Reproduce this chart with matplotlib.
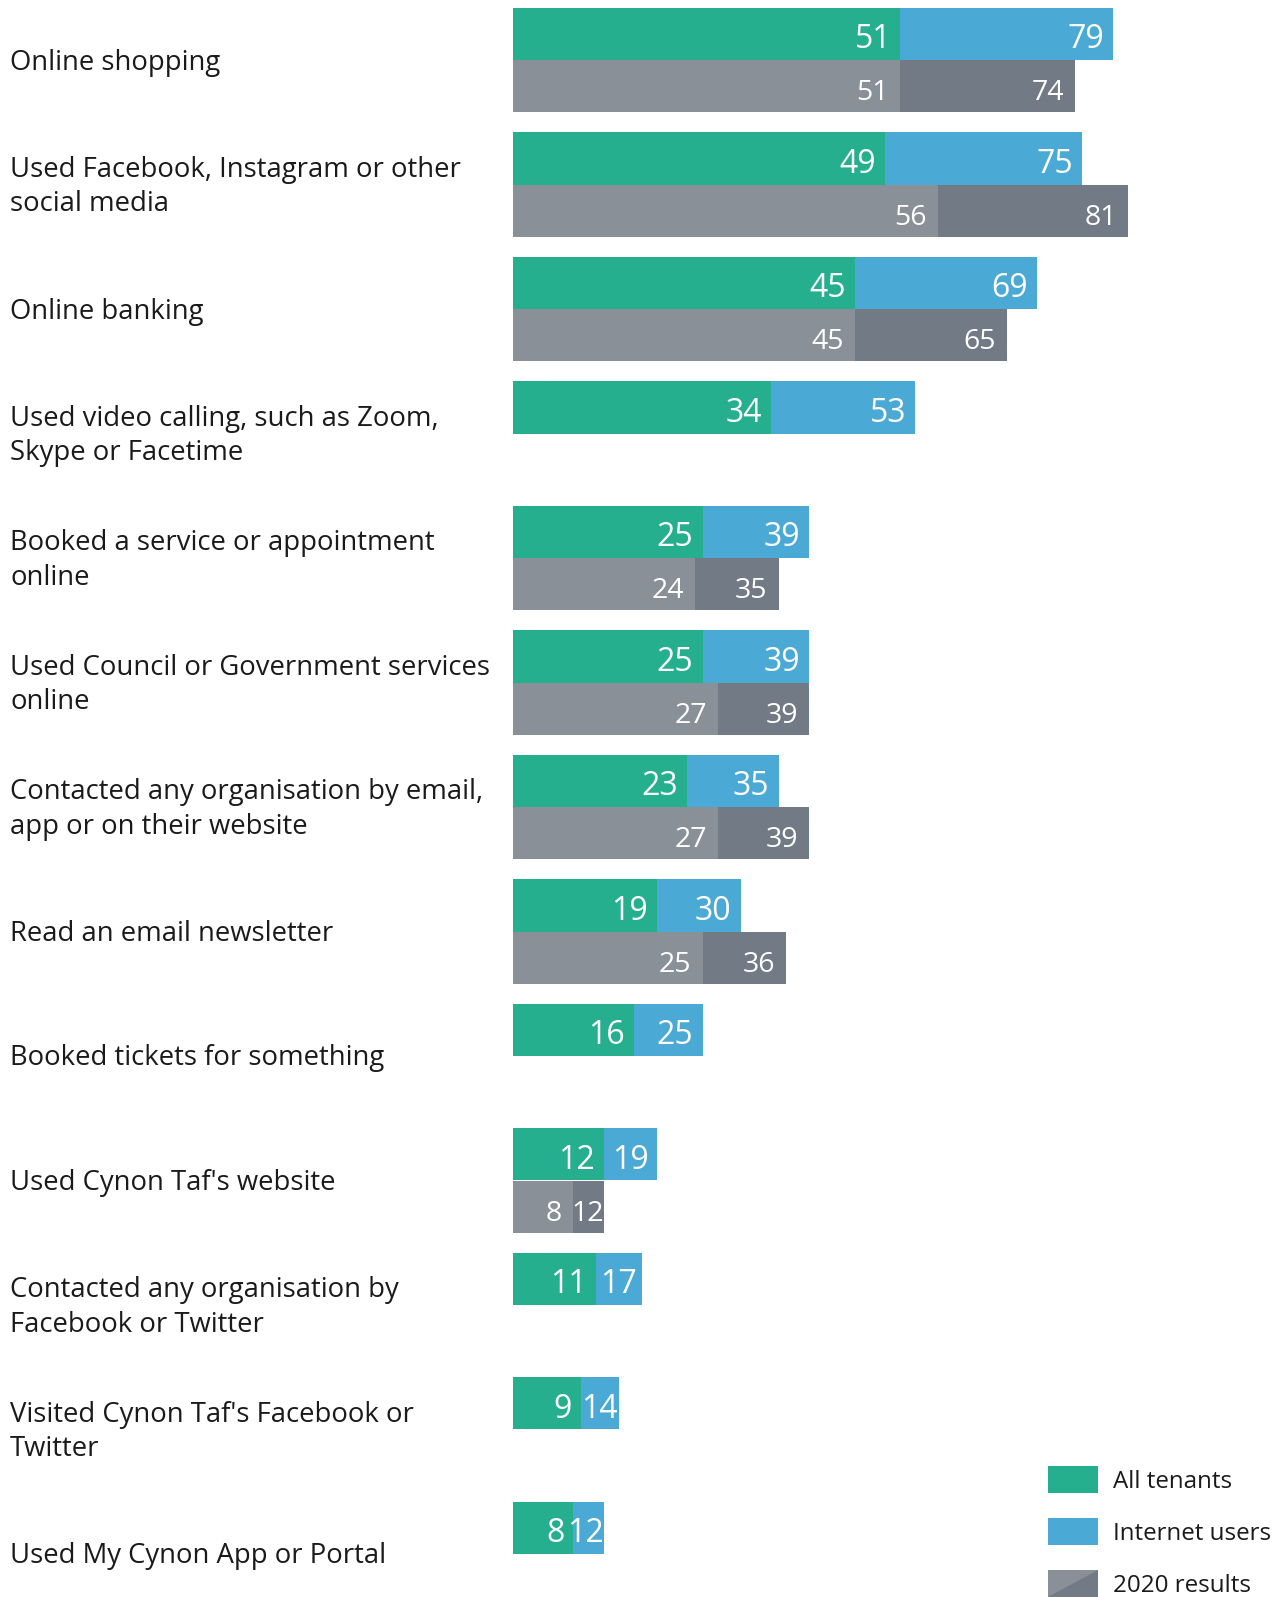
import matplotlib
matplotlib.use("Agg")
import numpy as np
import matplotlib.pyplot as plt
from matplotlib import font_manager as fm
from matplotlib.patches import Rectangle, Polygon
from matplotlib.transforms import blended_transform_factory, offset_copy

# ---- data -------------------------------------------------------------
categories = [
    "Online shopping",
    "Used Facebook, Instagram or other\nsocial media",
    "Online banking",
    "Used video calling, such as Zoom,\nSkype or Facetime",
    "Booked a service or appointment\nonline",
    "Used Council or Government services\nonline",
    "Contacted any organisation by email,\napp or on their website",
    "Read an email newsletter",
    "Booked tickets for something",
    "Used Cynon Taf's website",
    "Contacted any organisation by\nFacebook or Twitter",
    "Visited Cynon Taf's Facebook or\nTwitter",
    "Used My Cynon App or Portal",
]
all_tenants = [51, 49, 45, 34, 25, 25, 23, 19, 16, 12, 11, 9, 8]
internet_users = [79, 75, 69, 53, 39, 39, 35, 30, 25, 19, 17, 14, 12]
all_tenants_2020 = [51, 56, 45, np.nan, 24, 27, 27, 25, np.nan, 8, np.nan, np.nan, np.nan]
internet_users_2020 = [74, 81, 65, np.nan, 35, 39, 39, 36, np.nan, 12, np.nan, np.nan, np.nan]
legend_labels = ["All tenants", "Internet users", "2020 results"]

# ---- style ------------------------------------------------------------
GREEN = "#26AF8F"
BLUE = "#4BAAD5"
LGRAY = "#899098"
DGRAY = "#717A85"
TEXT = "#1A1A1A"

available = {f.name for f in fm.fontManager.ttflist}


def pick(*names):
    for n in names:
        if n in available:
            return n
    return "DejaVu Sans"


LABEL_FONT = pick("Open Sans", "Noto Sans", "Lato", "DejaVu Sans")
NUM_FONT = pick("Open Sans", "Noto Sans", "DejaVu Sans")

W, H = 1287, 1597
fig = plt.figure(figsize=(W / 100, H / 100), dpi=100)
fig.patch.set_facecolor("white")

X0 = 512.5          # left edge of the bars (px)
PX_PER_UNIT = 7.6   # horizontal scale (px per percentage point)
ROW0 = 60.0         # centre of first group (px from top)
ROW_STEP = 124.5    # distance between groups (px)
BAR_H = 0.42        # bar thickness in group units

ax = fig.add_axes([X0 / W, 0, 1 - X0 / W, 1])
ax.set_xlim(0, (W - X0) / PX_PER_UNIT)
ax.set_ylim((H - ROW0) / ROW_STEP, -ROW0 / ROW_STEP)
ax.axis("off")

n = len(categories)
pos = np.arange(n)
y_top = pos - BAR_H / 2
y_bot = pos + BAR_H / 2

at = np.array(all_tenants, float)
iu = np.array(internet_users, float)
a20 = np.array(all_tenants_2020, float)
i20 = np.array(internet_users_2020, float)
has20 = ~np.isnan(a20)

ax.barh(y_top, at, height=BAR_H, color=GREEN, linewidth=0)
ax.barh(y_top, iu - at, left=at, height=BAR_H, color=BLUE, linewidth=0)
ax.barh(y_bot[has20], a20[has20], height=BAR_H, color=LGRAY, linewidth=0)
ax.barh(y_bot[has20], (i20 - a20)[has20], left=a20[has20], height=BAR_H,
        color=DGRAY, linewidth=0)

# ---- value labels -----------------------------------------------------
renderer = fig.canvas.get_renderer()


def value_label(start, end, y, size, pad_px, drop_px):
    t = ax.text(end, y, f"{end:.0f}", ha="right", va="baseline", color="white",
                fontsize=size, family=NUM_FONT)
    tw = t.get_window_extent(renderer).width
    seg_px = (end - start) * PX_PER_UNIT
    pad = min(pad_px, max(0.0, (seg_px - tw) / 2))
    t.set_transform(offset_copy(ax.transData, fig=fig, x=-pad, y=-drop_px,
                                units="dots"))


for i in range(n):
    value_label(0, at[i], y_top[i], 23, 9, 14.5)
    value_label(at[i], iu[i], y_top[i], 23, 9, 14.5)
    if has20[i]:
        value_label(0, a20[i], y_bot[i], 20.5, 11, 14)
        value_label(a20[i], i20[i], y_bot[i], 20.5, 11, 14)

# ---- category labels ------------------------------------------------------
lab_tr = offset_copy(blended_transform_factory(fig.transFigure, ax.transData),
                     fig=fig, x=0, y=-2.5, units="dots")
for i, cat in enumerate(categories):
    ax.text(10 / W, pos[i], cat, transform=lab_tr, ha="left", va="center",
            fontsize=19.8, family=LABEL_FONT, color=TEXT, linespacing=1.31)

# ---- legend (drawn in pixel space) -------------------------------------
lg = fig.add_axes([0, 0, 1, 1], zorder=5)
lg.set_xlim(0, W)
lg.set_ylim(H, 0)
lg.axis("off")
lg.patch.set_alpha(0)

sw_x0, sw_x1, sw_h = 1048, 1098, 27
centres = [1479, 1531, 1583]
lg.add_patch(Rectangle((sw_x0, centres[0] - sw_h / 2), sw_x1 - sw_x0, sw_h,
                       color=GREEN, linewidth=0))
lg.add_patch(Rectangle((sw_x0, centres[1] - sw_h / 2), sw_x1 - sw_x0, sw_h,
                       color=BLUE, linewidth=0))
top, bot = centres[2] - sw_h / 2, centres[2] + sw_h / 2
lg.add_patch(Rectangle((sw_x0, top), sw_x1 - sw_x0, sw_h, color=LGRAY, linewidth=0))
lg.add_patch(Polygon([(sw_x0, bot), (sw_x1, bot), (sw_x1, top)], closed=True,
                     color=DGRAY, linewidth=0))
for c, lab in zip(centres, legend_labels):
    lg.text(1113, c + 3, lab, ha="left", va="center", fontsize=17.4,
            family=LABEL_FONT, color=TEXT)

fig.savefig("out.png", dpi=100)
